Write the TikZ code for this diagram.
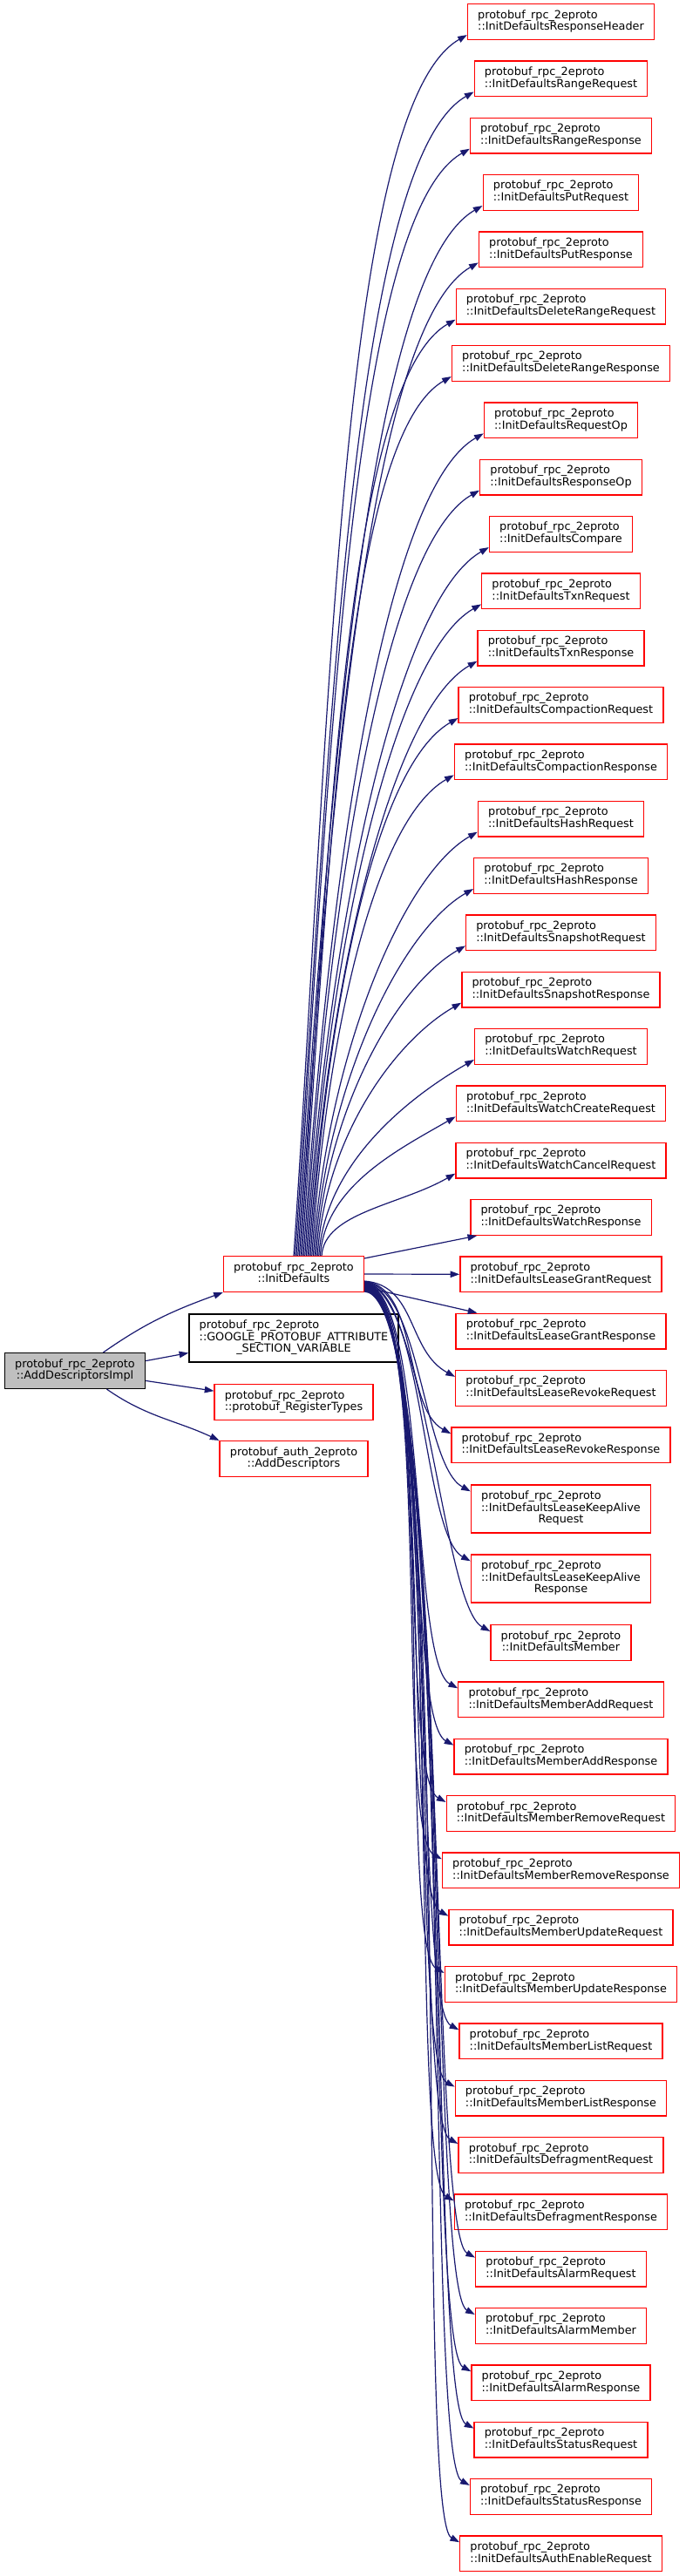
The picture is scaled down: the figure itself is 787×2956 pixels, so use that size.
\documentclass[tikz,border=0pt]{standalone}
\usepackage{fontspec}
\setmainfont{DejaVu Sans}
\definecolor{edgeblue}{RGB}{25,25,112}
\definecolor{rootgray}{RGB}{191,191,191}
\definecolor{cutred}{RGB}{255,0,0}
\usetikzlibrary{calc, arrows.meta}
\newcommand{\lastline}[1]{\multicolumn{1}{@{}c@{}}{#1}}
\newcommand{\fnlabel}[1]{\begin{tabular}{@{}l@{}}#1\end{tabular}}

\begin{document}
\begin{tikzpicture}[x=0.75pt, y=0.75pt,
    fn/.style={draw=cutred, fill=white, line width=1pt, minimum height=30pt,
      inner xsep=8.8pt, inner ysep=5pt, font=\fontsize{9.6}{10}\selectfont},
    root/.style={fn, draw=black, fill=rootgray},
    plain/.style={fn, draw=black},
    tall/.style={minimum height=41.25pt},
    call/.style={draw=edgeblue, line width=0.9pt, -{Triangle[length=8pt,width=5.6pt]}},
  ]
    \fill[white] (0,0) rectangle (787,-2956);
    \useasboundingbox (0,0) rectangle (787,-2956);

    \node[root] (impl) at (86,-1573) {\fnlabel{protobuf\_rpc\_2eproto\\\lastline{::AddDescriptorsImpl}}};
    \node[fn] (init) at (337,-1462) {\fnlabel{protobuf\_rpc\_2eproto\\\lastline{::InitDefaults}}};
    \node[plain, tall] (attr) at (337,-1535.5) {\fnlabel{protobuf\_rpc\_2eproto\\::GOOGLE\_PROTOBUF\_ATTRIBUTE\\\lastline{\_SECTION\_VARIABLE}}};
    \node[fn] (regtypes) at (337,-1609) {\fnlabel{protobuf\_rpc\_2eproto\\\lastline{::protobuf\_RegisterTypes}}};
    \node[fn] (authdesc) at (337,-1674) {\fnlabel{protobuf\_auth\_2eproto\\\lastline{::AddDescriptors}}};

    \foreach \n [count=\i from 0] in {ResponseHeader, RangeRequest, RangeResponse, PutRequest, PutResponse,
        DeleteRangeRequest, DeleteRangeResponse, RequestOp, ResponseOp, Compare, TxnRequest, TxnResponse,
        CompactionRequest, CompactionResponse, HashRequest, HashResponse, SnapshotRequest, SnapshotResponse,
        WatchRequest, WatchCreateRequest, WatchCancelRequest, WatchResponse, LeaseGrantRequest,
        LeaseGrantResponse, LeaseRevokeRequest, LeaseRevokeResponse}
      \node[fn] (\n) at (643.5,{-25-65.33*\i}) {\fnlabel{protobuf\_rpc\_2eproto\\\lastline{::InitDefaults\n}}};
    \node[fn, tall] (LeaseKeepAliveRequest) at (643.5,-1731.5) {\fnlabel{protobuf\_rpc\_2eproto\\::InitDefaultsLeaseKeepAlive\\\lastline{Request}}};
    \node[fn, tall] (LeaseKeepAliveResponse) at (643.5,-1811.5) {\fnlabel{protobuf\_rpc\_2eproto\\::InitDefaultsLeaseKeepAlive\\\lastline{Response}}};
    \foreach \n [count=\i from 0] in {Member, MemberAddRequest, MemberAddResponse, MemberRemoveRequest,
        MemberRemoveResponse, MemberUpdateRequest, MemberUpdateResponse, MemberListRequest, MemberListResponse,
        DefragmentRequest, DefragmentResponse, AlarmRequest, AlarmMember, AlarmResponse, StatusRequest,
        StatusResponse, AuthEnableRequest}
      \node[fn] (\n) at (643.5,{-1885-65.33*\i}) {\fnlabel{protobuf\_rpc\_2eproto\\\lastline{::InitDefaults\n}}};

    \draw[call] (impl.33) to[out=35, in=200] (init.south west);
    \draw[call] (impl.8) -- (attr.188);
    \draw[call] (impl.-8) -- (regtypes.172);
    \draw[call] (impl.-30) to[out=-35, in=155] (authdesc.north west);

    \foreach \n [count=\i from 0] in {ResponseHeader, RangeRequest, RangeResponse, PutRequest, PutResponse,
        DeleteRangeRequest, DeleteRangeResponse, RequestOp, ResponseOp, Compare, TxnRequest, TxnResponse,
        CompactionRequest, CompactionResponse, HashRequest, HashResponse, SnapshotRequest, SnapshotResponse,
        WatchRequest, WatchCreateRequest, WatchCancelRequest}{
      \pgfmathsetmacro{\shx}{1.6*\i}
      \pgfmathsetmacro{\dist}{1417-65.33*\i}
      \pgfmathsetmacro{\len}{65+0.07*\dist}
      \draw[call] ($(init.north)+(\shx,0)$) .. controls ($(init.north)+(\shx+0.03*\dist,0.45*\dist)$)
        and ($(\n.south west)+(-0.87*\len,6-0.5*\len)$) .. ($(\n.south west)+(0,6)$);
    }
    \draw[call] ($(init.north east)+(0,-3)$) -- ($(WatchResponse.south west)+(8,0)$);
    \draw[call] (init.east) -- (LeaseGrantRequest.west);
    \draw[call] ($(init.east)+(0,-15)$) -- ($(LeaseGrantResponse.north west)+(25,0)$);
    \foreach \n [count=\k from 0] in {LeaseRevokeRequest, LeaseRevokeResponse, LeaseKeepAliveRequest,
        LeaseKeepAliveResponse, Member, MemberAddRequest, MemberAddResponse, MemberRemoveRequest,
        MemberRemoveResponse, MemberUpdateRequest, MemberUpdateResponse, MemberListRequest, MemberListResponse,
        DefragmentRequest, DefragmentResponse, AlarmRequest, AlarmMember, AlarmResponse, StatusRequest,
        StatusResponse, AuthEnableRequest}{
      \pgfmathsetmacro{\shy}{-8-0.6*\k}
      \pgfmathsetmacro{\ctrlx}{60+2.5*\k}
      \draw[call] ($(init.east)+(0,\shy)$) .. controls ($(init.east)+(\ctrlx,\shy-5)$)
        and ($(\n.north west)+(-55,22)$) .. ($(\n.north west)+(0,-8)$);
    }
  \end{tikzpicture}
\end{document}
